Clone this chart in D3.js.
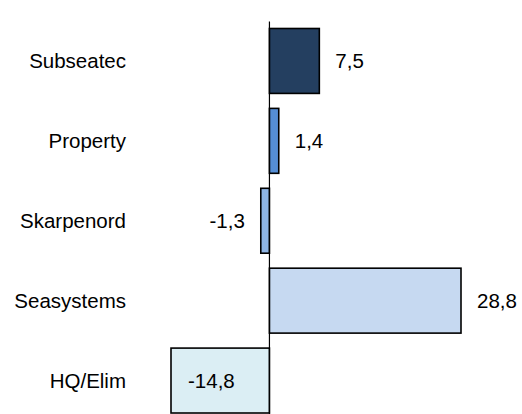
<!DOCTYPE html>
<html>
<head>
<meta charset="utf-8">
<script src="https://cdn.jsdelivr.net/npm/d3@7"></script>
<style>
  html, body { margin: 0; padding: 0; background: #fff; }
  svg { display: block; }
  text { font-family: Arial, "Liberation Sans", sans-serif; fill: #000; }
</style>
</head>
<body>
<svg id="chart" width="522" height="414"></svg>
<script>
// Segment results
const categories = ["Subseatec", "Property", "Skarpenord", "Seasystems", "HQ/Elim"];
const values = [7.5, 1.4, -1.3, 28.8, -14.8];
const valueLabels = ["7,5", "1,4", "-1,3", "28,8", "-14,8"];
const colors = ["#243F60", "#558ED5", "#8EB4E3", "#C6D9F1", "#DBEEF4"];

const svg = d3.select("#chart");
const fontSize = 20.5;

const x = d3.scaleLinear()
  .domain([d3.min(values), d3.max(values)])
  .range([171, 461]);

const y = d3.scaleBand()
  .domain(categories)
  .range([21, 420.5])
  .paddingInner(15 / 80)
  .paddingOuter(7.5 / 80);

const rows = categories.map((c, i) => ({ cat: c, v: values[i], label: valueLabels[i], color: colors[i] }));

// Bars
svg.append("g").selectAll("rect")
  .data(rows)
  .join("rect")
  .attr("x", d => Math.min(x(0), x(d.v)))
  .attr("y", d => y(d.cat))
  .attr("width", d => Math.abs(x(d.v) - x(0)))
  .attr("height", y.bandwidth())
  .attr("fill", d => d.color)
  .attr("stroke", "#000")
  .attr("stroke-width", 1.6);

// Zero axis line
svg.append("line")
  .attr("x1", x(0)).attr("x2", x(0))
  .attr("y1", 21.5).attr("y2", 414)
  .attr("stroke", "#000")
  .attr("stroke-width", 1.2);

// Category labels
svg.append("g").selectAll("text")
  .data(rows)
  .join("text")
  .attr("x", 126)
  .attr("y", d => y(d.cat) + y.bandwidth() / 2)
  .attr("dy", "0.35em")
  .attr("text-anchor", "end")
  .style("font-size", fontSize + "px")
  .text(d => d.cat);

// Value labels: outside the bar end, or inside when they would leave the plot
const plotLeft = x.range()[0];
svg.append("g").selectAll("text")
  .data(rows)
  .join("text")
  .each(function(d) {
    const t = d3.select(this);
    const cy = y(d.cat) + y.bandwidth() / 2;
    t.attr("y", cy).attr("dy", "0.35em").style("font-size", fontSize + "px").text(d.label);
    if (d.v >= 0) {
      t.attr("x", x(d.v) + 16).attr("text-anchor", "start");
    } else if (x(d.v) <= plotLeft + 0.5) {
      t.attr("x", x(d.v) + 17).attr("text-anchor", "start");
    } else {
      t.attr("x", x(d.v) - 16).attr("text-anchor", "end");
    }
  });
</script>
</body>
</html>
